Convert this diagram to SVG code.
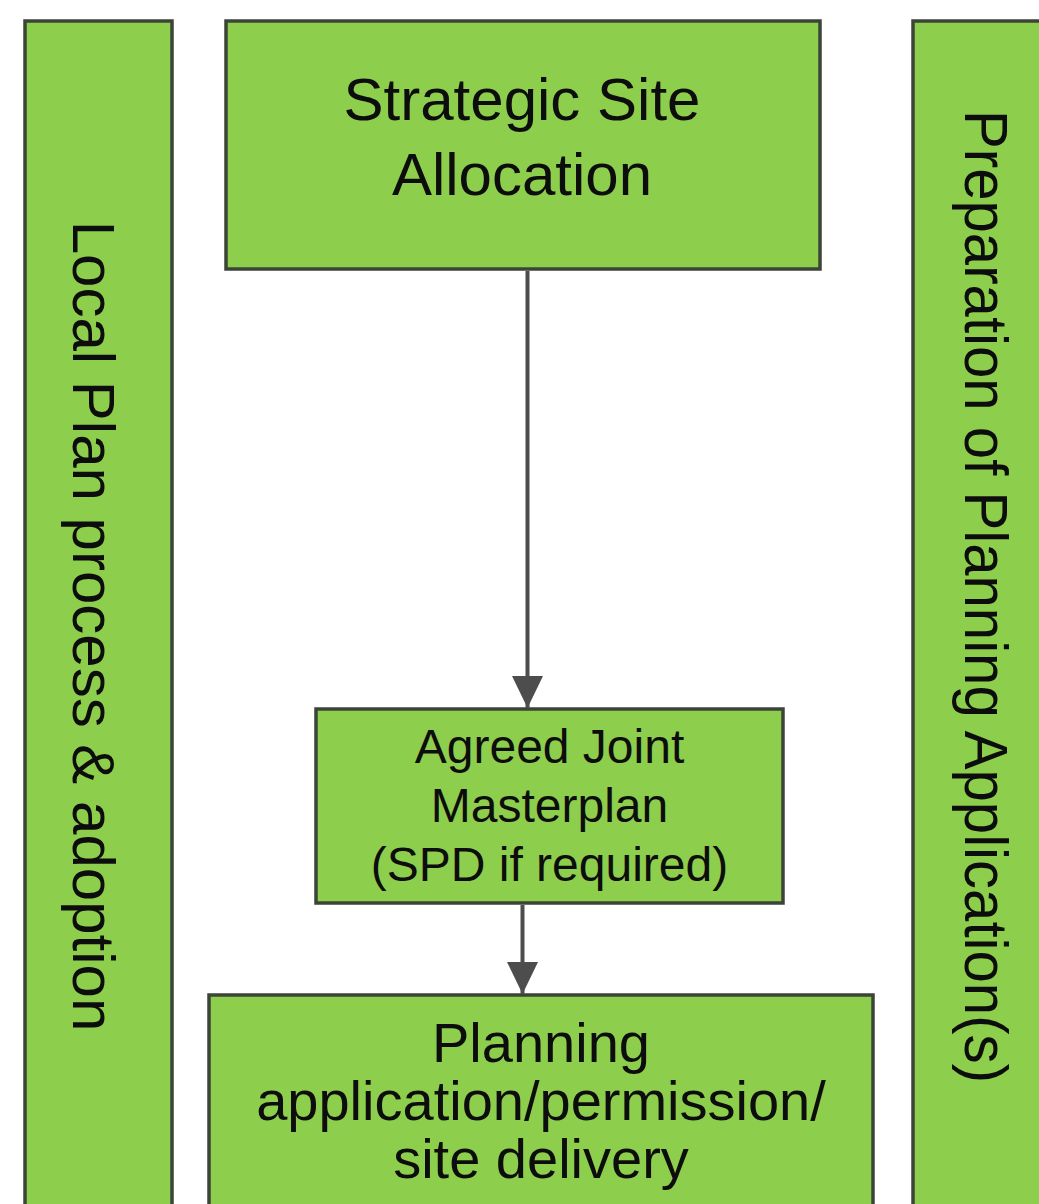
<svg xmlns="http://www.w3.org/2000/svg" width="1039" height="1204" viewBox="0 0 1039 1204">
  <style>
    .box { fill: #8dcf4c; stroke: #3c4437; stroke-width: 3.5; }
    .t { font-family: "Liberation Sans", Arial, sans-serif; fill: #0d0d0d; text-anchor: middle; }
    .conn { stroke: #4d4d4d; stroke-width: 4; fill: none; }
  </style>
  <defs>
    <marker id="arrow" viewBox="0 0 32 31" refX="32" refY="15.5" markerWidth="32" markerHeight="31" markerUnits="userSpaceOnUse" orient="auto">
      <path d="M0,0 L32,15.5 L0,31 Z" fill="#4d4d4d"/>
    </marker>
  </defs>
  <rect width="1039" height="1204" fill="#ffffff"/>

  <g id="local-plan">
    <rect class="box" x="25" y="21" width="147" height="1300"/>
    <text class="t" font-size="60" transform="translate(73,626) rotate(90)">Local Plan process &amp; adoption</text>
  </g>

  <g id="preparation">
    <rect class="box" x="913" y="21" width="200" height="1300"/>
    <text class="t" font-size="61" textLength="973" lengthAdjust="spacingAndGlyphs" transform="translate(965,596.5) rotate(90)">Preparation of Planning Application(s)</text>
  </g>

  <g id="strategic-site">
    <rect class="box" x="226" y="21" width="594" height="248"/>
    <text class="t" font-size="60" x="522" y="120">Strategic Site</text>
    <text class="t" font-size="60" x="522" y="195">Allocation</text>
  </g>

  <g id="masterplan">
    <rect class="box" x="316" y="709" width="467" height="194"/>
    <text class="t" font-size="48" x="549.5" y="763">Agreed Joint</text>
    <text class="t" font-size="48" x="549.5" y="822">Masterplan</text>
    <text class="t" font-size="48" x="549.5" y="881">(SPD if required)</text>
  </g>

  <g id="planning">
    <rect class="box" x="209" y="995" width="664" height="300"/>
    <text class="t" font-size="56" x="541" y="1062">Planning</text>
    <text class="t" font-size="56" x="541" y="1120">application/permission/</text>
    <text class="t" font-size="56" x="541" y="1178">site delivery</text>
  </g>

  <g id="connectors">
    <line class="conn" x1="527.5" y1="271" x2="527.5" y2="708" marker-end="url(#arrow)"/>
    <line class="conn" x1="522.5" y1="905" x2="522.5" y2="994" marker-end="url(#arrow)"/>
  </g>
</svg>
